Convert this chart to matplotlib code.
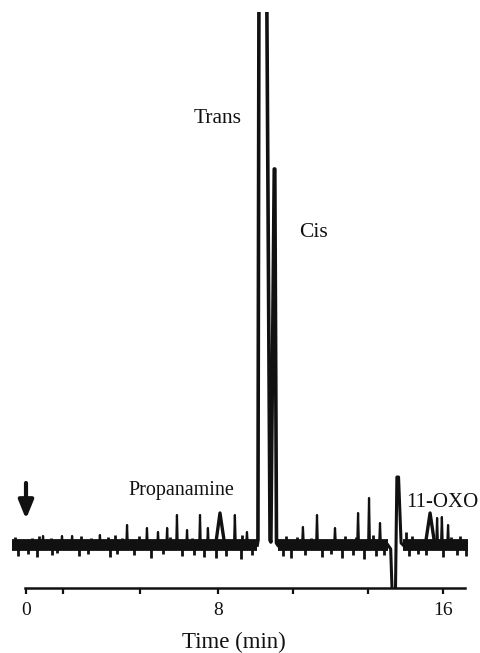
import numpy as np
import matplotlib.pyplot as plt

plt.rcParams['font.family'] = ['Liberation Serif', 'DejaVu Serif']

# recorder chart: the chart speed differs before and after 8 min,
# so time is mapped piecewise onto the paper
T_KNOTS = [-5.0, 0.0, 8.0, 25.0]
P_KNOTS = [-120.0, 0.0, 192.0, 670.125]


def fwd(t):
    return np.interp(t, T_KNOTS, P_KNOTS)


def inv(p):
    return np.interp(p, P_KNOTS, T_KNOTS)


# baseline stretches of the trace (min)
BASE_START = [-0.58, 10.13, 14.58]
BASE_END = [9.39, 14.04, 16.89]

# sharp spikes on the baseline: time (min), height (detector units)
SPIKE_T = [0.71, 1.50, 1.92, 3.08, 4.21, 5.04, 5.50, 5.88, 6.29, 6.71, 7.25, 7.58,
           8.60, 9.03, 11.02, 11.52, 12.16, 12.98, 13.37, 13.76, 15.79, 15.96, 16.18]
SPIKE_H = [9, 9, 9, 10, 20, 17, 13, 17, 30, 15, 30, 17,
           30, 13, 18, 30, 17, 32, 47, 22, 27, 28, 20]

# small broad peaks (Propanamine and one near 15.5 min)
BROAD_T = [8.07, 15.54]
BROAD_H = [32, 32]

# noise hairs on the baseline (negative = downward)
NOISE_T = [-0.45, -0.35, 0.10, 0.25, 0.45, 0.55, 1.05, 1.10, 1.30, 2.20, 2.30, 2.60, 2.70,
           3.40, 3.50, 3.70, 3.80, 4.00, 4.50, 4.70, 5.20, 5.70, 6.00, 6.50, 6.90, 7.00,
           7.40, 7.90, 8.30, 8.80, 8.85, 9.20,
           10.30, 10.40, 10.60, 10.80, 11.10, 11.30, 11.70, 12.00, 12.40, 12.50, 12.80,
           12.90, 13.20, 13.50, 13.60, 13.90,
           14.70, 14.80, 14.90, 15.10, 15.40, 16.00, 16.30, 16.50, 16.60, 16.80]
NOISE_H = [8, -11, -9, 7, -12, 9, 7, -10, -8, -11, 9, -9, 7,
           8, -12, 10, -9, 7, -10, 9, -13, -9, 8, -11, 7, -10,
           -12, -13, -11, -14, 10, -10,
           -11, 9, -13, 8, -10, 7, -12, -9, -13, 9, -10,
           8, -14, 10, -11, -10,
           13, -11, 9, -9, -10, -12, 8, -10, 9, -11]

# Trans (off scale) and Cis peaks
MAIN_T = [9.39, 9.42, 9.46, 9.72, 9.85, 9.88, 10.00, 10.02, 10.08, 10.13]
MAIN_Y = [0, 5, 620, 620, 5, 3, 376, 376, 2, 0]

# 11-OXO: negative dip then peak
OXO_T = [14.04, 14.14, 14.19, 14.31, 14.36, 14.42, 14.51, 14.58]
OXO_Y = [0, -4, -46, -46, 68, 68, 2, 0]

MAJOR_T = [0, 8, 16]
MAJOR_LABELS = ['0', '8', '16']
MINOR_T = [1.54, 4.75, 10.67, 13.33]

ink = '#111111'

fig = plt.figure(figsize=(4.8, 6.53), dpi=100)
ax = fig.add_axes([0, 65 / 653, 1, 576 / 653])
ax.set_xscale('function', functions=(fwd, inv))
ax.set_xlim(inv(-26), inv(454))
ax.set_ylim(-43, 533)

# thick noisy baseline
for t0, t1 in zip(BASE_START, BASE_END):
    ax.plot([t0, t1], [0, 0], color=ink, lw=8.5, solid_capstyle='butt')
ax.vlines(NOISE_T, 0, NOISE_H, color=ink, lw=2.0)


def spike_path(ts, hs, hw):
    xs, ys = [], []
    for t, h in zip(ts, hs):
        xs += [t - hw, t, t + hw, np.nan]
        ys += [0, h, 0, np.nan]
    return xs, ys


xs, ys = spike_path(SPIKE_T, SPIKE_H, 0.03)
ax.plot(xs, ys, color=ink, lw=1.6)
xs, ys = spike_path(BROAD_T, BROAD_H, 0.17)
ax.plot(xs, ys, color=ink, lw=2.4)

ax.plot(MAIN_T, MAIN_Y, color=ink, lw=2.6)
ax.plot(OXO_T, OXO_Y, color=ink, lw=2.2)

# injection arrow
ax.annotate('', xy=(0, 26), xytext=(0, 62),
            arrowprops=dict(arrowstyle='-|>,head_length=1.1,head_width=0.45',
                            lw=3.0, color=ink, shrinkA=0, shrinkB=0))

# peak labels
lab = dict(ha='center', va='baseline', color=ink)
ax.text(7.99, 422, 'Trans', fontsize=15.5, **lab)
ax.text(11.40, 308, 'Cis', fontsize=15.5, **lab)
ax.text(6.46, 50, 'Propanamine', fontsize=14.5, **lab)
ax.text(15.96, 38, '11-OXO', fontsize=15, **lab)

for s in ['left', 'right', 'top']:
    ax.spines[s].set_visible(False)
ax.spines['bottom'].set_linewidth(1.8)
ax.spines['bottom'].set_color(ink)
ax.spines['bottom'].set_bounds(inv(-1), inv(439))

ax.set_yticks([])
ax.set_xticks(MAJOR_T)
ax.set_xticklabels(MAJOR_LABELS)
ax.set_xticks(MINOR_T, minor=True)
ax.tick_params(which='both', direction='out', length=4, width=1.6, color=ink)
ax.tick_params(axis='x', labelsize=14, pad=6, labelcolor=ink)

ax.set_xlabel('Time (min)', fontsize=16.5, color=ink)
ax.xaxis.label.set_va('baseline')
ax.xaxis.set_label_coords(0.4875, -60 / 576)

fig.savefig('out.png', dpi=100)
